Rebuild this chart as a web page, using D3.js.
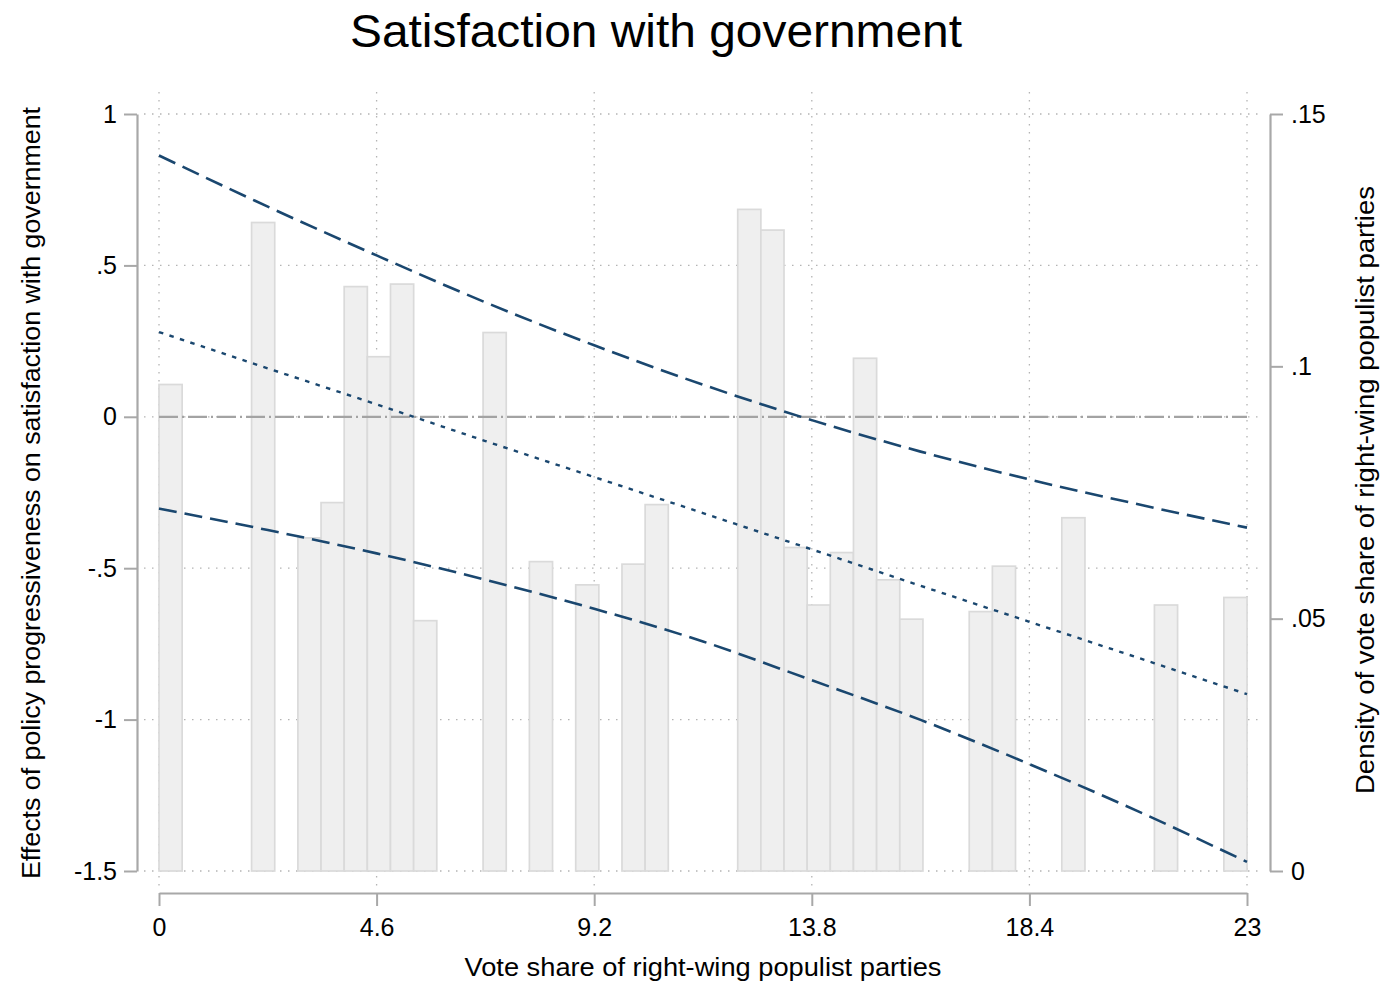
<!DOCTYPE html>
<html>
<head>
<meta charset="utf-8">
<script src="https://cdn.jsdelivr.net/npm/d3@7"></script>
<style>
  html, body { margin: 0; padding: 0; background: #fff; }
  svg text { font-family: "Liberation Sans", Arial, Helvetica, sans-serif; fill: #000; }
</style>
</head>
<body>
<svg id="chart" width="1387" height="984"></svg>
<script>
// ---- Data ----
const title = "Satisfaction with government";
const xTitle = "Vote share of right-wing populist parties";
const yLeftTitle = "Effects of policy progressiveness on satisfaction with government";
const yRightTitle = "Density of vote share of right-wing populist parties";

const xTicks = [0, 4.6, 9.2, 13.8, 18.4, 23];
const xTickLabels = ["0", "4.6", "9.2", "13.8", "18.4", "23"];
const yLeftTicks = [1, 0.5, 0, -0.5, -1, -1.5];
const yLeftTickLabels = ["1", ".5", "0", "-.5", "-1", "-1.5"];
const yRightTicks = [0.15, 0.1, 0.05, 0];
const yRightTickLabels = [".15", ".1", ".05", "0"];

// histogram bins (left edge of bin, vote share) and densities
const binWidth = 0.4894;
const binStart = [0, 1.957, 2.936, 3.426, 3.915, 4.404, 4.894, 5.383, 6.851, 7.830,
  8.809, 9.787, 10.277, 12.234, 12.723, 13.213, 13.702, 14.191, 14.681, 15.170,
  15.660, 17.128, 17.617, 19.085, 21.043, 22.511];
const binDensity = [0.0964, 0.1285, 0.0660, 0.0730, 0.1158, 0.1019, 0.1163, 0.0496, 0.1067, 0.0613,
  0.0567, 0.0608, 0.0726, 0.1311, 0.1270, 0.0641, 0.0527, 0.0631, 0.1016, 0.0577,
  0.0499, 0.0514, 0.0604, 0.0700, 0.0527, 0.0542];

// marginal effect and confidence bounds
const effX = [0, 2.3, 4.6, 6.9, 9.2, 11.5, 13.8, 16.1, 18.4, 20.7, 23];
const effMid = [0.280, 0.160, 0.041, -0.080, -0.199, -0.318, -0.438, -0.558, -0.677, -0.796, -0.916];
const effUpper = [0.863, 0.694, 0.533, 0.378, 0.236, 0.106, -0.011, -0.115, -0.207, -0.289, -0.366];
const effLower = [-0.303, -0.374, -0.451, -0.538, -0.634, -0.742, -0.870, -1.001, -1.147, -1.303, -1.470];

// ---- Chart ----
const svg = d3.select("#chart");
const x = d3.scaleLinear().domain([0, 23]).range([159, 1247]);
const yL = d3.scaleLinear().domain([-1.5, 1]).range([871, 114]);
const yR = d3.scaleLinear().domain([0, 0.15]).range([871, 114]);

const gridColor = "#b4b4b4";
const axisColor = "#a8a8a8";
const navy = "#1a476f";
const fontFam = '"Liberation Sans", Arial, Helvetica, sans-serif';

// grid
const grid = svg.append("g");
grid.selectAll(".hg").data(yLeftTicks).join("line")
  .attr("x1", 144).attr("x2", 1262)
  .attr("y1", d => yL(d)).attr("y2", d => yL(d))
  .attr("stroke", gridColor).attr("stroke-width", 1.3)
  .attr("stroke-dasharray", "1.5,6.5");
grid.selectAll(".vg").data(xTicks).join("line")
  .attr("x1", d => x(d)).attr("x2", d => x(d))
  .attr("y1", 92).attr("y2", 886)
  .attr("stroke", gridColor).attr("stroke-width", 1.3)
  .attr("stroke-dasharray", "1.5,6.5");

// bars
const bins = binStart.map((s, i) => ({ s, d: binDensity[i] }));
svg.append("g").selectAll("rect").data(bins).join("rect")
  .attr("x", d => x(d.s))
  .attr("width", d => x(d.s + binWidth) - x(d.s))
  .attr("y", d => yR(d.d))
  .attr("height", d => yR(0) - yR(d.d))
  .attr("fill", "#efefef")
  .attr("stroke", "#dadada")
  .attr("stroke-width", 1.7);

// zero reference line
svg.append("line")
  .attr("x1", x(0)).attr("x2", x(23))
  .attr("y1", yL(0)).attr("y2", yL(0))
  .attr("stroke", "#a3a3a3").attr("stroke-width", 2.2)
  .attr("stroke-dasharray", "19,4,2,4");

// effect lines
const pts = arr => effX.map((v, i) => [v, arr[i]]);
const lineCurve = d3.line().x(d => x(d[0])).y(d => yL(d[1])).curve(d3.curveMonotoneX);
svg.append("path").attr("d", lineCurve(pts(effUpper)))
  .attr("fill", "none").attr("stroke", navy).attr("stroke-width", 2.6)
  .attr("stroke-dasharray", "18,8");
svg.append("path").attr("d", lineCurve(pts(effLower)))
  .attr("fill", "none").attr("stroke", navy).attr("stroke-width", 2.6)
  .attr("stroke-dasharray", "18,8");
svg.append("path").attr("d", lineCurve(pts(effMid)))
  .attr("fill", "none").attr("stroke", navy).attr("stroke-width", 2.4)
  .attr("stroke-dasharray", "4.5,6.5");

// axes
function styleAxis(g) {
  g.select(".domain").attr("stroke", axisColor).attr("stroke-width", 2.2);
  g.selectAll(".tick line").attr("stroke", axisColor).attr("stroke-width", 2);
  g.selectAll(".tick text").attr("fill", "#000").style("font-size", "25px")
    .style("font-family", fontFam);
}

const xAxis = d3.axisBottom(x).tickValues(xTicks)
  .tickFormat((d, i) => xTickLabels[i]).tickSize(13).tickSizeOuter(0).tickPadding(12);
svg.append("g").attr("transform", "translate(0,893)").call(xAxis).call(styleAxis);

const yLAxis = d3.axisLeft(yL).tickValues(yLeftTicks)
  .tickFormat((d, i) => yLeftTickLabels[i]).tickSize(13).tickSizeOuter(0).tickPadding(7);
svg.append("g").attr("transform", "translate(137,0)").call(yLAxis).call(styleAxis);

const yRAxis = d3.axisRight(yR).tickValues(yRightTicks)
  .tickFormat((d, i) => yRightTickLabels[i]).tickSize(13).tickSizeOuter(0).tickPadding(8);
svg.append("g").attr("transform", "translate(1270,0)").call(yRAxis).call(styleAxis);

// titles
svg.append("text").attr("x", 656).attr("y", 47).attr("text-anchor", "middle")
  .style("font-size", "47px").attr("textLength", 612).attr("lengthAdjust", "spacingAndGlyphs")
  .text(title);
svg.append("text").attr("x", 703).attr("y", 976).attr("text-anchor", "middle")
  .style("font-size", "25px").attr("textLength", 477).attr("lengthAdjust", "spacingAndGlyphs")
  .text(xTitle);
svg.append("text").attr("transform", "translate(40,493) rotate(-90)")
  .attr("text-anchor", "middle").style("font-size", "25px")
  .attr("textLength", 772).attr("lengthAdjust", "spacingAndGlyphs").text(yLeftTitle);
svg.append("text").attr("transform", "translate(1374,490) rotate(-90)")
  .attr("text-anchor", "middle").style("font-size", "25px")
  .attr("textLength", 608).attr("lengthAdjust", "spacingAndGlyphs").text(yRightTitle);
</script>
</body>
</html>
